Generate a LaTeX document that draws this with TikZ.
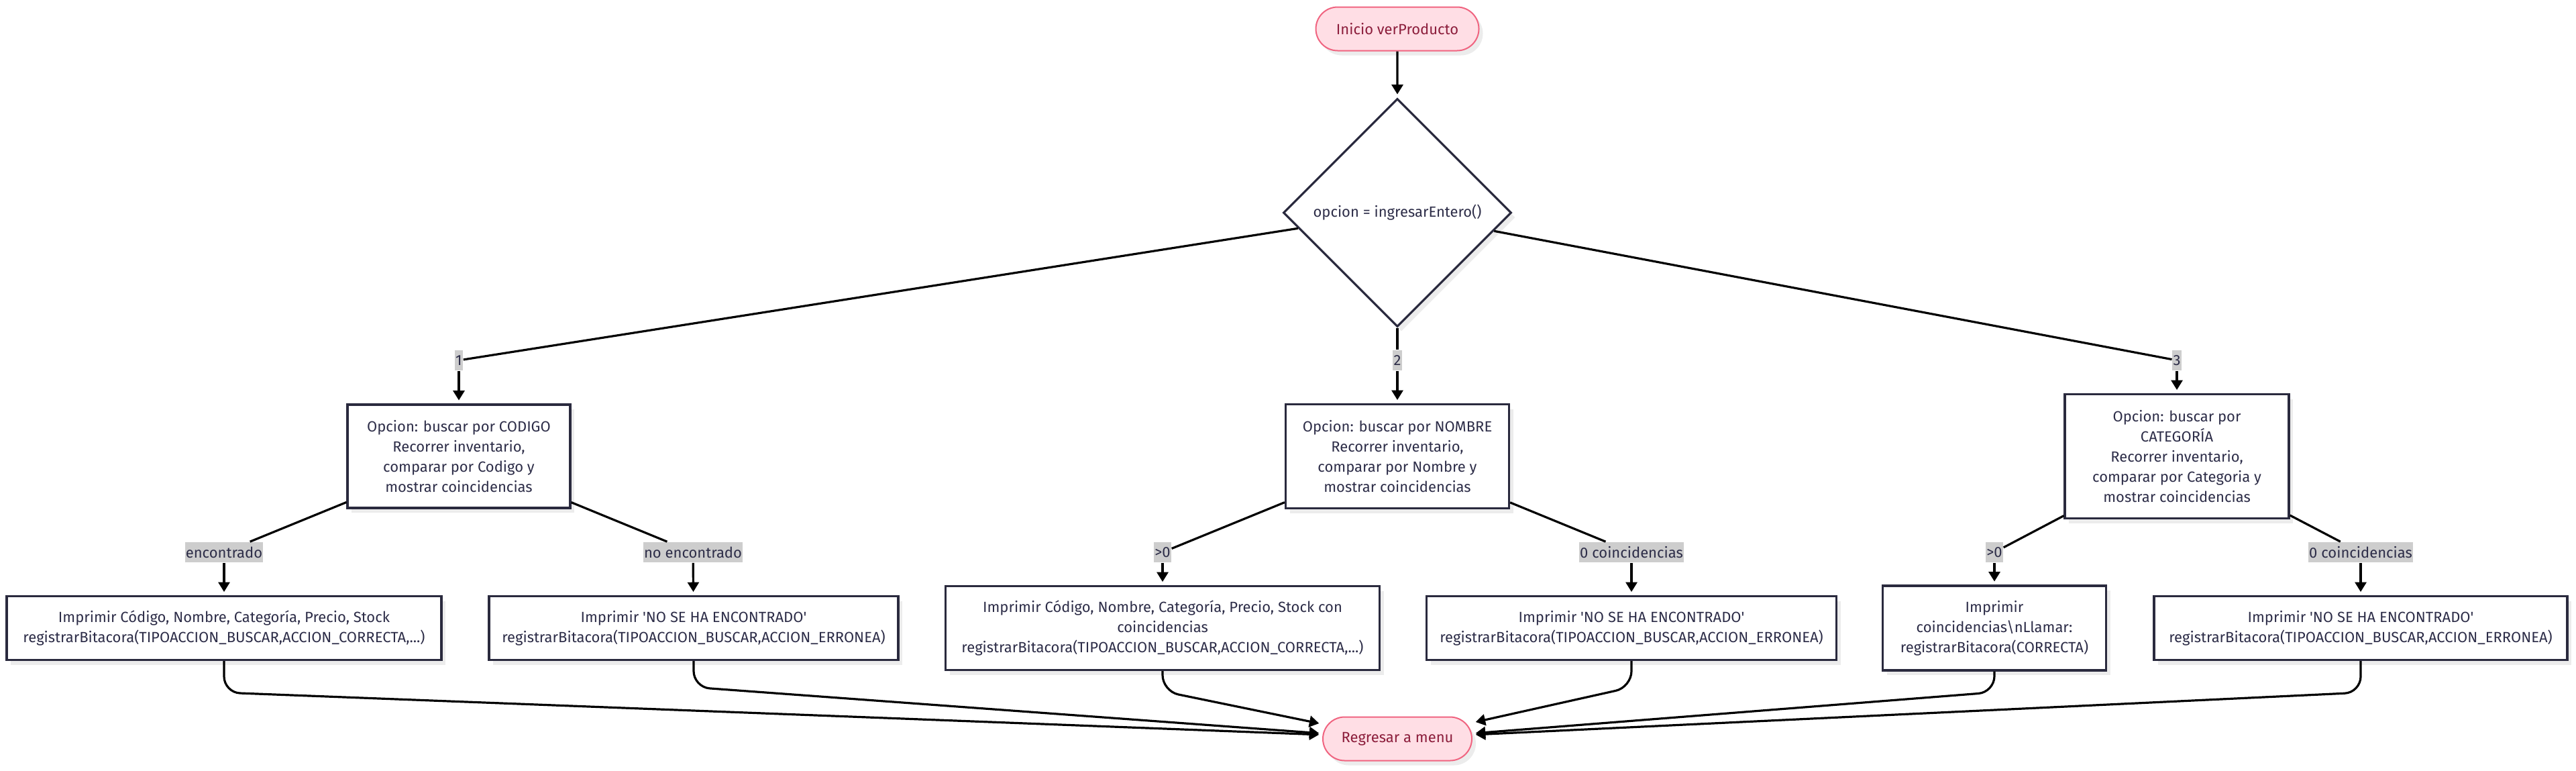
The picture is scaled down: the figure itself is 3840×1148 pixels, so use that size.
\documentclass[tikz,border=0pt]{standalone}
\usepackage{fontspec}
\setmainfont{Fira Sans}[Ligatures=TeXOff]
\usetikzlibrary{shapes.geometric,shapes.misc,arrows.meta,calc,shadows}
\definecolor{pinkfill}{RGB}{255,222,229}
\definecolor{pinkline}{RGB}{240,100,128}
\definecolor{pinktext}{RGB}{140,30,60}
\definecolor{navy}{RGB}{42,42,62}
\definecolor{navytext}{RGB}{45,45,72}
\definecolor{lblgray}{RGB}{205,205,205}
\definecolor{shadowgray}{RGB}{236,236,236}
\begin{document}
\begin{tikzpicture}[x=0.25pt,y=-0.25pt,
  font=\fontsize{5.5pt}{7.5pt}\selectfont,
  shad/.style={drop shadow={shadow xshift=1.5pt,shadow yshift=-1.75pt,fill=shadowgray,opacity=1}},
  term/.style={rounded rectangle, draw=pinkline, line width=0.5pt, fill=pinkfill, text=pinktext, minimum height=16.25pt, inner sep=0pt, shad},
  proc/.style={rectangle, draw=navy, line width=0.8pt, fill=white, text=navytext, align=center, inner sep=0pt, shad},
  dec/.style={diamond, aspect=1, draw=navy, line width=0.8pt, fill=white, text=navytext, inner sep=0pt, minimum size=85pt, shad},
  lbl/.style={fill=lblgray, text=navytext, inner xsep=0.3pt, inner ysep=0pt, minimum height=7.5pt},
  edge/.style={draw=black, line width=0.8pt},
  arr/.style={edge, -{Triangle[width=4.2pt,length=3.6pt]}, shorten >=1.2pt},
]
\useasboundingbox (0,0) rectangle (3840,1148);

% nodes
\node[term, minimum width=60.75pt] (start) at (2083,43) {Inicio verProducto};
\node[dec] (dia) at (2083,317) {opcion = ingresarEntero()};

\node[lbl] (l1) at (684,537) {1};
\node[lbl] (l2) at (2083,537) {2};
\node[lbl] (l3) at (3245,537) {3};

\node[proc, minimum width=83pt, minimum height=38.5pt] (b1) at (684,680)
  {Opcion: buscar por CODIGO\\Recorrer inventario,\\comparar por Codigo y\\mostrar coincidencias};
\node[proc, minimum width=83.25pt, minimum height=38.75pt] (b2) at (2083,680)
  {Opcion: buscar por NOMBRE\\Recorrer inventario,\\comparar por Nombre y\\mostrar coincidencias};
\node[proc, minimum width=83.5pt, minimum height=46.25pt] (b3) at (3245,680)
  {Opcion: buscar por\\CATEGORÍA\\Recorrer inventario,\\comparar por Categoria y\\mostrar coincidencias};

\node[lbl] (lenc) at (334,823) {encontrado};
\node[lbl] (lnoenc) at (1033,823) {no encontrado};
\node[lbl] (l2a) at (1733,823) {>0};
\node[lbl] (l2b) at (2432,823) {0 coincidencias};
\node[lbl] (l3a) at (2973,823) {>0};
\node[lbl] (l3b) at (3519,823) {0 coincidencias};

\node[proc, minimum width=162pt, minimum height=23.75pt] (b1a) at (334,936)
  {Imprimir Código, Nombre, Categoría, Precio, Stock\\registrarBitacora(TIPOACCION\_BUSCAR,ACCION\_CORRECTA,...)};
\node[proc, minimum width=152.5pt, minimum height=23.75pt] (b1b) at (1034,936)
  {Imprimir 'NO SE HA ENCONTRADO'\\registrarBitacora(TIPOACCION\_BUSCAR,ACCION\_ERRONEA)};
\node[proc, minimum width=161.75pt, minimum height=31.25pt] (b2a) at (1733,936)
  {Imprimir Código, Nombre, Categoría, Precio, Stock con\\coincidencias\\registrarBitacora(TIPOACCION\_BUSCAR,ACCION\_CORRECTA,...)};
\node[proc, minimum width=152.75pt, minimum height=23.75pt] (b2b) at (2432,936)
  {Imprimir 'NO SE HA ENCONTRADO'\\registrarBitacora(TIPOACCION\_BUSCAR,ACCION\_ERRONEA)};
\node[proc, minimum width=83.25pt, minimum height=31.5pt] (b3a) at (2973,936)
  {Imprimir\\coincidencias\textbackslash nLlamar:\\registrarBitacora(CORRECTA)};
\node[proc, minimum width=154pt, minimum height=23.75pt] (b3b) at (3519,936)
  {Imprimir 'NO SE HA ENCONTRADO'\\registrarBitacora(TIPOACCION\_BUSCAR,ACCION\_ERRONEA)};

\node[term, minimum width=55.5pt] (endn) at (2083,1101) {Regresar a menu};

% connectors
\draw[arr] (start) -- (dia);
\draw[edge] (dia) -- (l1); \draw[arr] (l1) -- (b1);
\draw[edge] (dia) -- (l2); \draw[arr] (l2) -- (b2);
\draw[edge] (dia) -- (l3); \draw[arr] (l3) -- (b3);

\draw[edge] (b1) -- (lenc);   \draw[arr] (lenc) -- (b1a);
\draw[edge] (b1) -- (lnoenc); \draw[arr] (lnoenc) -- (b1b);
\draw[edge] (b2) -- (l2a);    \draw[arr] (l2a) -- (b2a);
\draw[edge] (b2) -- (l2b);    \draw[arr] (l2b) -- (b2b);
\draw[edge] (b3) -- (l3a);    \draw[arr] (l3a) -- (b3a);
\draw[edge] (b3) -- (l3b);    \draw[arr] (l3b) -- (b3b);

\draw[arr, rounded corners=6pt] (b1a.south) -- ++(0,47) -- ($(endn.west)+(0,-6)$);
\draw[arr, rounded corners=6pt] (b1b.south) -- ++(0,39) -- ($(endn.west)+(0,-8)$);
\draw[arr, rounded corners=6pt] (b2a.south) -- ++(0,30) -- ($(endn.west)+(0,-22)$);
\draw[arr, rounded corners=6pt] (b2b.south) -- ++(0,39) -- ($(endn.east)+(0,-24)$);
\draw[arr, rounded corners=6pt] (b3a.south) -- ++(0,31) -- ($(endn.east)+(0,-8)$);
\draw[arr, rounded corners=6pt] (b3b.south) -- ++(0,47) -- ($(endn.east)+(0,-6)$);
\end{tikzpicture}
\end{document}
